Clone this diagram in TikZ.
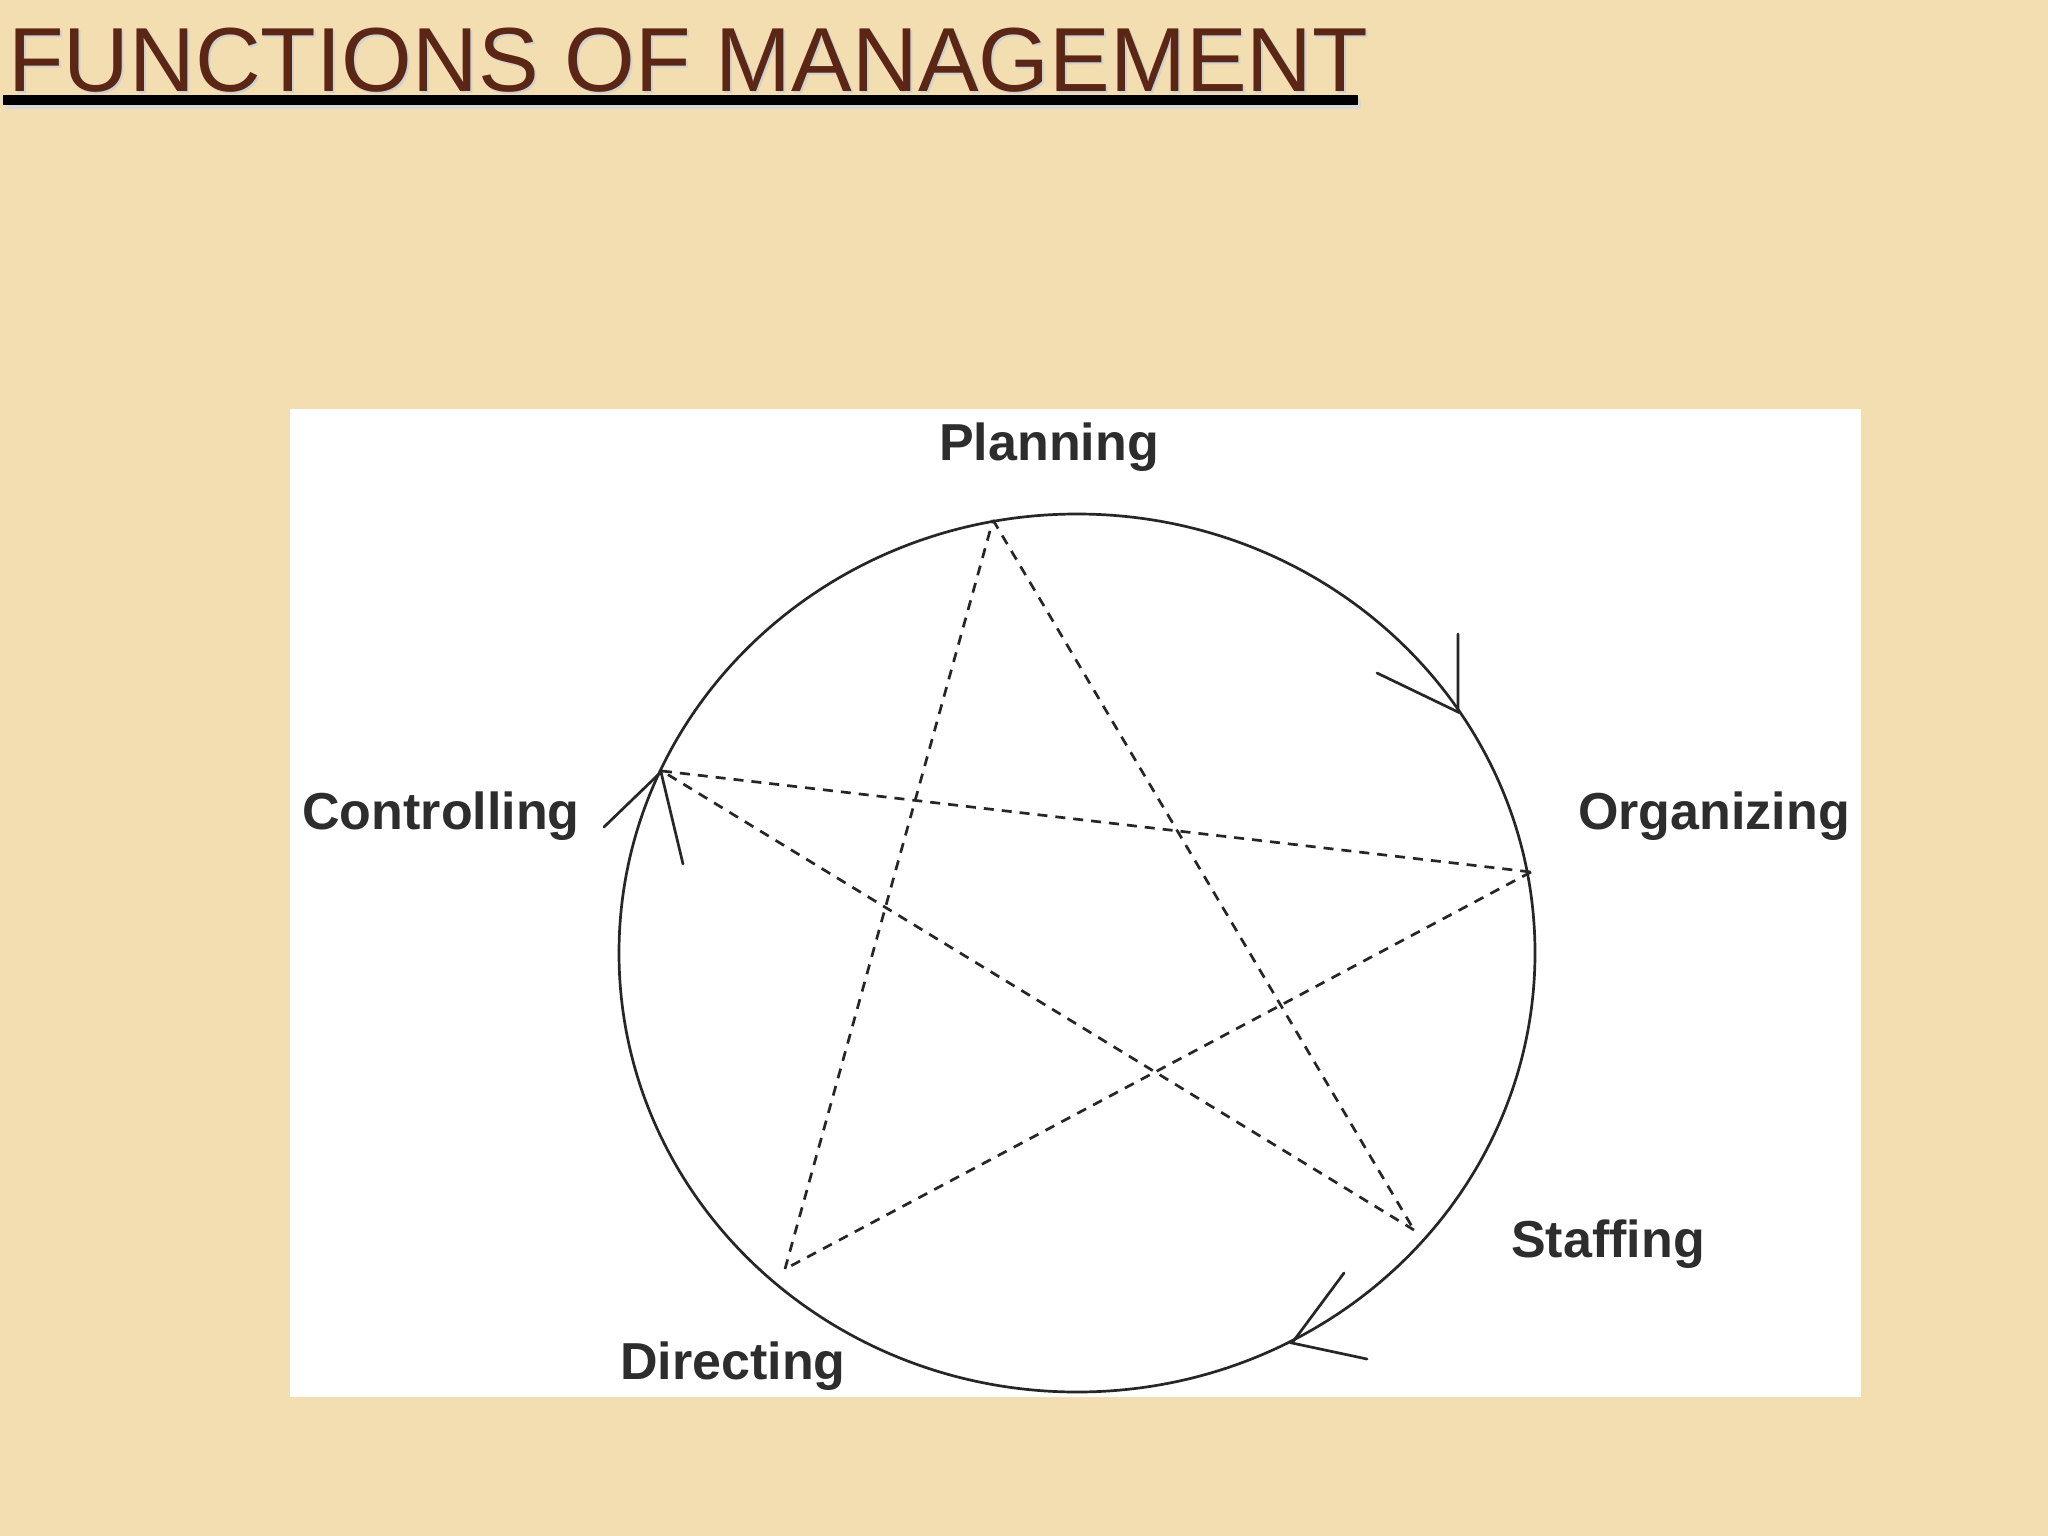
\documentclass[tikz,border=0pt]{standalone}
\usepackage{fontspec}
\setmainfont{Liberation Sans}
\definecolor{bgbeige}{RGB}{243,222,178}
\definecolor{titlebrown}{RGB}{92,38,20}
\definecolor{labelgray}{RGB}{45,45,45}
\begin{document}
\begin{tikzpicture}[x=1pt,y=-1pt,
  lbl/.style={font=\fontsize{52}{62}\selectfont\bfseries, text=labelgray, inner sep=0pt},
  starline/.style={draw=black!85, line width=2.7pt, dash pattern=on 10pt off 8pt},
  ring/.style={draw=black!85, line width=2.7pt},
  tipline/.style={draw=black!85, line width=2.7pt, line cap=round}]
\fill[bgbeige] (0,0) rectangle (2048,1536);
\useasboundingbox (0,0) rectangle (2048,1536);
% title
\node[anchor=base west, inner sep=0pt, text=black!18, font=\fontsize{91}{100}\selectfont] (titleshadow) at (10,94) {FUNCTIONS OF MANAGEMENT};
\node[anchor=base west, inner sep=0pt, text=titlebrown, font=\fontsize{91}{100}\selectfont] (title) at (8,92) {FUNCTIONS OF MANAGEMENT};
\fill[black!15] (6,99) rectangle (1361,109);
\fill[black] (3,95) rectangle (1358,105);
% white panel
\fill[white] (290,409) rectangle (1861,1397);
% ring
\draw[ring] (1077,953) ellipse [x radius=458, y radius=439];
% star vertices
\coordinate (P) at (993,520);
\coordinate (O) at (1531,872);
\coordinate (S) at (1414,1230);
\coordinate (D) at (785,1269);
\coordinate (C) at (662,771);
\draw[starline] (P) -- (S);
\draw[starline] (S) -- (C);
\draw[starline] (C) -- (O);
\draw[starline] (O) -- (D);
\draw[starline] (D) -- (P);
% labels
\node[lbl] (planning) at (1049,447) {Planning};
\node[lbl] (organizing) at (1714,816) {Organizing};
\node[lbl] (staffing) at (1608,1244) {Staffing};
\node[lbl] (directing) at (733,1366) {Directing};
\node[lbl] (controlling) at (441,816) {Controlling};
% arrow heads on the ring
\coordinate (t1) at (1458,712);
\coordinate (t1a) at (1458,634);
\coordinate (t1b) at (1377,673);
\draw[tipline] (t1a) -- (t1) -- (t1b);
\coordinate (t2) at (1292,1343);
\coordinate (t2a) at (1344,1273);
\coordinate (t2b) at (1367,1359);
\draw[tipline] (t2a) -- (t2) -- (t2b);
\coordinate (t3) at (661,772);
\coordinate (t3a) at (604,827);
\coordinate (t3b) at (683,864);
\draw[tipline] (t3a) -- (t3) -- (t3b);
\end{tikzpicture}
\end{document}
